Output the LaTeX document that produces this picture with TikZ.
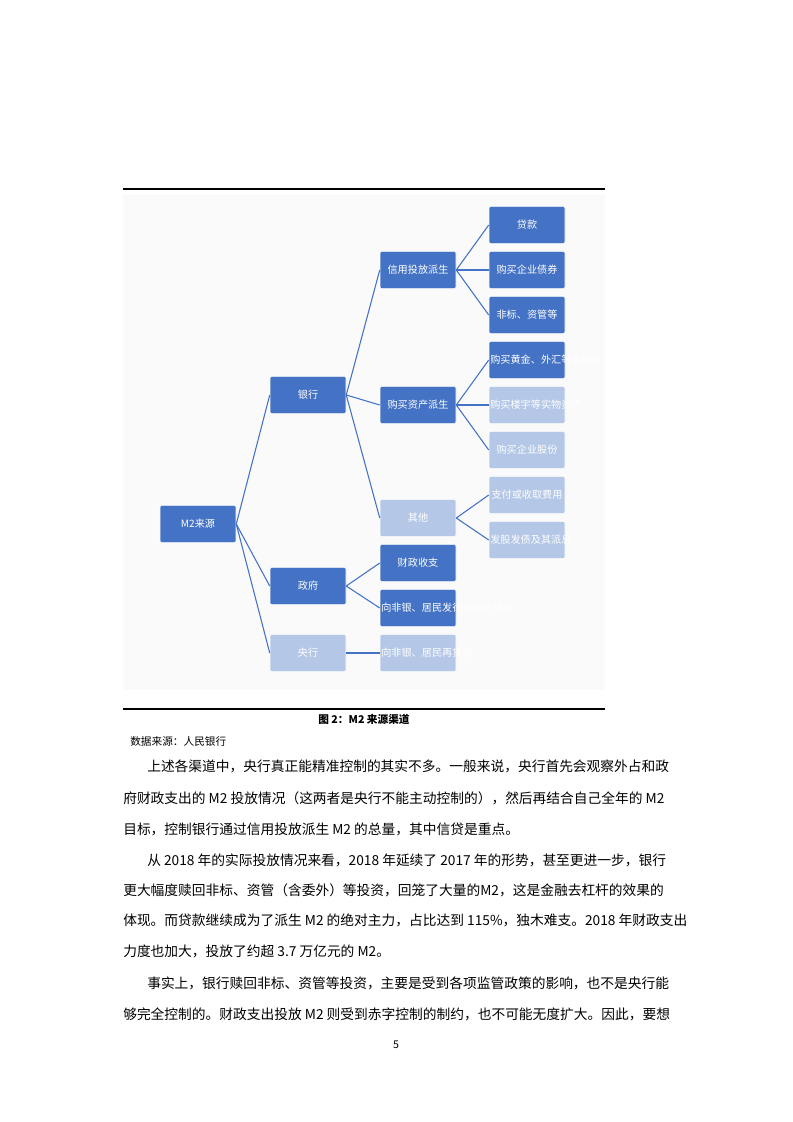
\documentclass[tikz,border=0pt]{standalone}
\usepackage{fontspec}
\setmainfont{Noto Sans CJK SC}
\begin{document}
\begin{tikzpicture}[x=0.75pt,y=-0.75pt,
 box/.style={rectangle,rounded corners=1.5pt,minimum width=57pt,minimum height=28pt,inner sep=1pt,text width=55pt,align=center,font=\fontsize{7.6}{9}\selectfont,text=white,draw=white,line width=0.4pt},
 dk/.style={box,fill=dkb},
 lt/.style={box,fill=ltb},
 ln/.style={draw=dkb,line width=0.8pt},
 body/.style={anchor=base west,inner sep=0,font=\fontsize{10.3}{12}\selectfont}]
\definecolor{dkb}{HTML}{4472C4}
\definecolor{ltb}{HTML}{B4C7E7}
\useasboundingbox[fill=white] (0,0) rectangle (793,1122);
\fill[gray!4] (123,195) rectangle (605,690);
\draw[line width=0.8pt] (123,189) -- (605,189);
\draw[line width=0.8pt] (123,709) -- (605,709);
\node[dk] (m2) at (198,524) {M2来源};
\node[dk] (yh) at (308,395) {银行};
\node[dk] (zf) at (308,586) {政府};
\node[lt] (yx) at (308,653) {央行};
\node[dk] (xy) at (418,270) {信用投放派生};
\node[dk] (gm) at (418,405) {购买资产派生};
\node[lt] (qt) at (418,518) {其他};
\node[dk] (cz) at (418,563) {财政收支};
\node[dk] (fx) at (418,608) {向非银、居民发行或偿还债券};
\node[lt] (zd) at (418,653) {向非银、居民再贷款};
\node[dk] (dk1) at (527,225) {贷款};
\node[dk] (zq) at (527,270) {购买企业债券};
\node[dk] (fb) at (527,315) {非标、资管等};
\node[dk] (hj) at (527,360) {购买黄金、外汇等金融资产};
\node[lt] (ly) at (527,405) {购买楼宇等实物资产};
\node[lt] (gf) at (527,450) {购买企业股份};
\node[lt] (zf2) at (527,495) {支付或收取费用};
\node[lt] (fg) at (527,540) {发股发债及其派息};
\foreach \a/\b in {m2/yh,m2/zf,m2/yx,yh/xy,yh/gm,yh/qt,zf/cz,zf/fx,yx/zd,xy/dk1,xy/zq,xy/fb,gm/hj,gm/ly,gm/gf,qt/zf2,qt/fg}
 \draw[ln] (\a.east) -- (\b.west);
\node[font=\bfseries\fontsize{8}{10}\selectfont] (cap) at (364,719) {图 2：M2 来源渠道};
\node[anchor=west,inner sep=0,font=\fontsize{8}{10}\selectfont] (src) at (130,741) {数据来源：人民银行};
\node[body] (l1) at (147,771) {上述各渠道中，央行真正能精准控制的其实不多。一般来说，央行首先会观察外占和政};
\node[body] (l2) at (123,803) {府财政支出的 M2 投放情况（这两者是央行不能主动控制的），然后再结合自己全年的 M2};
\node[body] (l3) at (123,834) {目标，控制银行通过信用投放派生 M2 的总量，其中信贷是重点。};
\node[body] (l4) at (147,865) {从 2018 年的实际投放情况来看，2018 年延续了 2017 年的形势，甚至更进一步，银行};
\node[body] (l5) at (123,895) {更大幅度赎回非标、资管（含委外）等投资，回笼了大量的M2，这是金融去杠杆的效果的};
\node[body] (l6) at (123,925) {体现。而贷款继续成为了派生 M2 的绝对主力，占比达到 115\%，独木难支。2018 年财政支出};
\node[body] (l7) at (123,956) {力度也加大，投放了约超 3.7 万亿元的 M2。};
\node[body] (l8) at (147,988) {事实上，银行赎回非标、资管等投资，主要是受到各项监管政策的影响，也不是央行能};
\node[body] (l9) at (123,1019) {够完全控制的。财政支出投放 M2 则受到赤字控制的制约，也不可能无度扩大。因此，要想};
\node[font=\fontsize{8}{10}\selectfont] (pg) at (396,1045) {5};
\end{tikzpicture}
\end{document}
